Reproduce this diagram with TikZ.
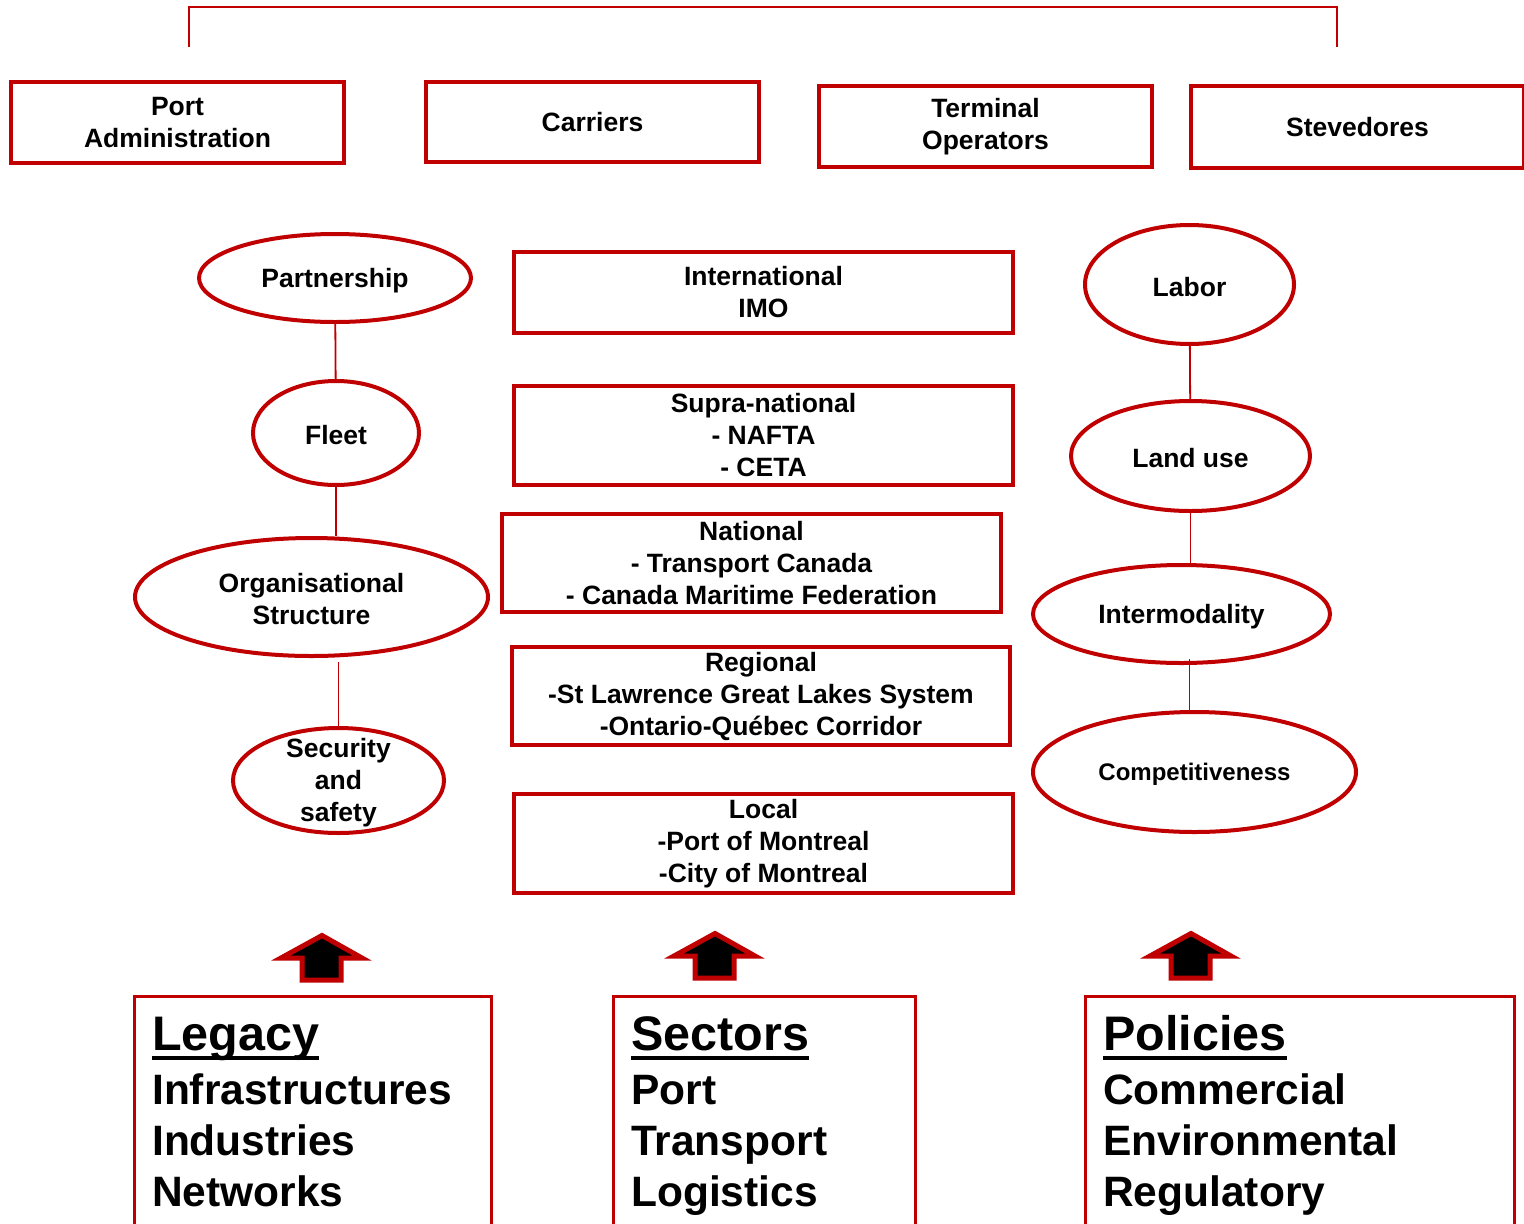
\documentclass[tikz,border=0pt]{standalone}
\usepackage{fontspec}
\setmainfont{Liberation Sans}
\usetikzlibrary{shapes.geometric}
\definecolor{pred}{HTML}{C00000}
\newcommand\ulx[1]{\setbox0\hbox{#1}\rlap{\rule[-10pt]{\wd0}{4pt}}\box0}
\begin{document}
\begin{tikzpicture}[x=1pt,y=-1pt,
  box/.style={draw=pred,line width=4pt,rectangle,inner sep=0pt,align=center,font=\bfseries\fontsize{26.5}{32}\selectfont},
  oval/.style={draw=pred,line width=4pt,ellipse,inner sep=0pt},
  lbl/.style={align=center,inner sep=0pt,yshift=-2.5pt,font=\bfseries\fontsize{26.5}{32}\selectfont},
  conn/.style={draw=pred,line width=1.8pt},
  botbox/.style={draw=pred,line width=2.5pt,rectangle,inner sep=0pt,anchor=north west},
  bigtxt/.style={anchor=base west,inner sep=0pt,font=\bfseries\fontsize{42.5}{52}\selectfont},
  headtxt/.style={anchor=base west,inner sep=0pt,font=\bfseries\fontsize{48.5}{52}\selectfont},
  uparr/.pic={\filldraw[draw=pred,fill=black,line width=5pt,line join=miter] (0,3.5) -- (40,26) -- (19,26) -- (19,48) -- (-20,48) -- (-20,26) -- (-41,26) -- cycle;}
]
\useasboundingbox (0,0) rectangle (1524,1224);
\clip (0,0) rectangle (1524,1224);

% top bracket
\coordinate (bl) at (189,47);
\coordinate (br) at (1337,47);
\draw[conn] (bl) -- ++(0,-40) -| (br);

% top boxes
\node[box,minimum width=333pt,minimum height=81pt] (pa) at (177.5,122.5) {Port\\Administration};
\node[box,minimum width=333pt,minimum height=80pt] (car) at (592.5,122) {Carriers};
\node[box,minimum width=333pt,minimum height=81pt] (term) at (985.5,126.5) {Terminal\\Operators};
\node[box,minimum width=333pt,minimum height=82pt] (stev) at (1357.5,127) {Stevedores};

% left ovals
\node[oval,minimum width=272pt,minimum height=88pt] (part) at (335,278) {};
\node[lbl] (partT) at (part) {Partnership};
\node[oval,minimum width=166pt,minimum height=104pt] (fleet) at (336,433) {};
\node[lbl] (fleetT) at (fleet) {Fleet};
\node[oval,minimum width=353pt,minimum height=118pt] (org) at (311.5,597) {};
\node[lbl] (orgT) at (org) {Organisational\\Structure};
\node[oval,minimum width=211pt,minimum height=105pt] (sec) at (338.5,780.5) {};
\node[lbl] (secT) at (sec) {Security\\and\\safety};

\draw[conn] (part) -- (fleet);
\draw[conn] (fleet.south) -- (fleet.south |- org.north);
\draw[conn] (sec.north) -- ([yshift=-4pt]sec.north |- org.south);

% right ovals
\node[oval,minimum width=209pt,minimum height=119pt] (labor) at (1189.5,284.5) {};
\node[lbl] (laborT) at (labor) {Labor};
\node[oval,minimum width=239pt,minimum height=110pt] (land) at (1190.5,456) {};
\node[lbl] (landT) at (land) {Land use};
\node[oval,minimum width=297pt,minimum height=98pt] (inter) at (1181.5,614) {};
\node[lbl] (interT) at (inter) {Intermodality};
\node[oval,minimum width=323pt,minimum height=120pt] (comp) at (1194.5,772) {};
\node[lbl,font=\bfseries\fontsize{24}{30}\selectfont] (compT) at (comp) {Competitiveness};

\draw[conn] (labor) -- (land);
\draw[conn] (land.south) -- (land.south |- inter.north);
\draw[conn] ([xshift=8pt,yshift=6pt]inter.south) -- ([xshift=8pt]inter.south |- comp.north);

% center boxes
\node[box,minimum width=499pt,minimum height=81pt] (intl) at (763.5,292.5) {International\\IMO};
\node[box,minimum width=499pt,minimum height=99pt] (supra) at (763.5,435.5) {Supra-national\\- NAFTA\\- CETA};
\node[box,minimum width=499pt,minimum height=98pt] (natl) at (751.5,563) {National\\- Transport Canada\\- Canada Maritime Federation};
\node[box,minimum width=498pt,minimum height=98pt] (reg) at (761,696) {Regional\\-St Lawrence Great Lakes System\\-Ontario-Québec Corridor};
\node[box,minimum width=499pt,minimum height=99pt] (loc) at (763.5,843.5) {Local\\-Port of Montreal\\-City of Montreal};

% arrows
\pic at (322,932) {uparr};
\pic at (715,930) {uparr};
\pic at (1191,930) {uparr};

% bottom boxes
\node[botbox,minimum width=357pt,minimum height=300pt] (legbox) at (133,995) {};
\node[botbox,minimum width=302pt,minimum height=300pt] (secbox) at (612,995) {};
\node[botbox,minimum width=429pt,minimum height=300pt] (polbox) at (1084,995) {};

\node[headtxt] (leg0) at (152,1050) {\ulx{Legacy}};
\node[bigtxt] (leg1) at (152,1104) {Infrastructures};
\node[bigtxt] (leg2) at (152,1155) {Industries};
\node[bigtxt] (leg3) at (152,1206) {Networks};

\node[headtxt] (sec0) at (631,1050) {\ulx{Sectors}};
\node[bigtxt] (sec1) at (631,1104) {Port};
\node[bigtxt] (sec2) at (631,1155) {Transport};
\node[bigtxt] (sec3) at (631,1206) {Logistics};

\node[headtxt] (pol0) at (1103,1050) {\ulx{Policies}};
\node[bigtxt] (pol1) at (1103,1104) {Commercial};
\node[bigtxt] (pol2) at (1103,1155) {Environmental};
\node[bigtxt] (pol3) at (1103,1206) {Regulatory};
\end{tikzpicture}
\end{document}
